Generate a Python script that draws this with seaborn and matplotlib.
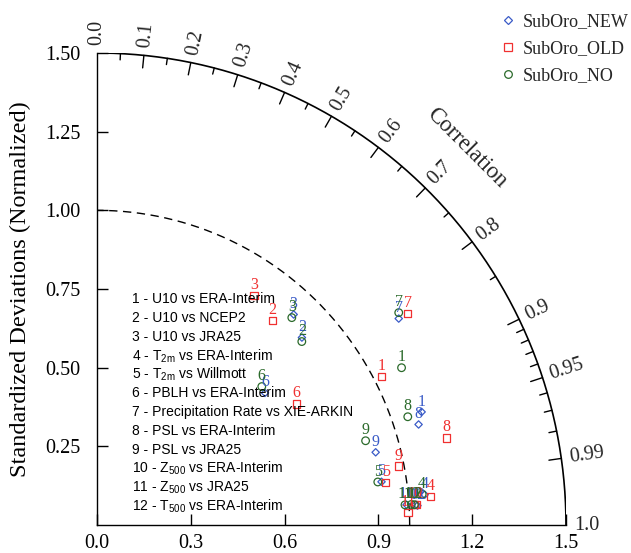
import numpy as np
import pandas as pd
import matplotlib
matplotlib.use("Agg")
import matplotlib.pyplot as plt
import seaborn as sns
from matplotlib.lines import Line2D

# ---------------- data ----------------
models = ["SubOro_NEW", "SubOro_OLD", "SubOro_NO"]
case_ids = [1, 2, 3, 4, 5, 6, 7, 8, 9, 10, 11, 12]

sd_new = [1.0987, 0.8856, 0.9183, 1.0524, 0.9203, 0.6818, 1.1669, 1.0770, 0.9207, 1.0220, 0.9921, 1.0269]
corr_new = [0.9450, 0.7400, 0.6850, 0.9958, 0.9888, 0.7880, 0.8270, 0.9550, 0.9680, 0.9980, 0.9979, 0.9982]

sd_old = [1.0255, 0.8593, 0.8851, 1.0698, 0.9327, 0.7460, 1.1998, 1.1518, 0.9831, 1.0171, 0.9958, 1.0221]
corr_old = [0.8880, 0.6540, 0.5670, 0.9964, 0.9896, 0.8566, 0.8285, 0.9707, 0.9816, 0.9979, 0.9992, 0.9980]

sd_no = [1.0948, 0.8769, 0.9069, 1.0446, 0.9084, 0.6865, 1.1776, 1.0518, 0.8998, 1.0072, 0.9871, 1.0170]
corr_no = [0.8897, 0.7470, 0.6870, 0.9956, 0.9886, 0.7677, 0.8195, 0.9450, 0.9547, 0.9979, 0.9979, 0.9980]

case_labels = [
    "1 - U10 vs ERA-Interim",
    "2 - U10 vs NCEP2",
    "3 - U10 vs JRA25",
    "4 - T$_{\\mathrm{2m}}$ vs ERA-Interim",
    "5 - T$_{\\mathrm{2m}}$ vs Willmott",
    "6 - PBLH vs ERA-Interim",
    "7 - Precipitation Rate vs XIE-ARKIN",
    "8 - PSL vs ERA-Interim",
    "9 - PSL vs JRA25",
    "10 - Z$_{\\mathrm{500}}$ vs ERA-Interim",
    "11 - Z$_{\\mathrm{500}}$ vs JRA25",
    "12 - T$_{\\mathrm{500}}$ vs ERA-Interim",
]

sd_max = 1.5
sd_ticks = [0.25, 0.5, 0.75, 1.0, 1.25, 1.5]
x_ticks = [0.0, 0.3, 0.6, 0.9, 1.2, 1.5]
corr_major = [0.1, 0.2, 0.3, 0.4, 0.5, 0.6, 0.7, 0.8, 0.9, 0.95, 0.99]
corr_medium = [0.05, 0.15, 0.25, 0.35, 0.45, 0.55, 0.65, 0.75, 0.85]
corr_minor = [0.91, 0.92, 0.93, 0.94, 0.96, 0.97, 0.98]
corr_labels = [0.0] + corr_major + [1.0]

colors = {"SubOro_NEW": "#3a5bc7", "SubOro_OLD": "#f03030", "SubOro_NO": "#2b6a2b"}
markers = {"SubOro_NEW": "D", "SubOro_OLD": "s", "SubOro_NO": "o"}
sizes = {"SubOro_NEW": 14, "SubOro_OLD": 28, "SubOro_NO": 30}

rows = []
for m, sds, crs in [("SubOro_NEW", sd_new, corr_new),
                    ("SubOro_OLD", sd_old, corr_old),
                    ("SubOro_NO", sd_no, corr_no)]:
    for cid, s, c in zip(case_ids, sds, crs):
        rows.append({"model": m, "case": cid, "sd": s, "corr": c})
df = pd.DataFrame(rows)
df["x"] = df["sd"] * df["corr"]
df["y"] = df["sd"] * np.sqrt(1 - df["corr"] ** 2)

# ---------------- style ----------------
sns.set_theme(style="white")
plt.rcParams["font.family"] = ["Liberation Serif", "DejaVu Serif"]
plt.rcParams["mathtext.fontset"] = "custom"
plt.rcParams["mathtext.rm"] = "Liberation Sans"
plt.rcParams["mathtext.it"] = "Liberation Sans:italic"
plt.rcParams["mathtext.bf"] = "Liberation Sans:bold"

fig = plt.figure(figsize=(6.31, 5.53), dpi=100)
ax = fig.add_axes([97 / 631, 28 / 553, 469 / 631, 472 / 553])

# arcs
th = np.linspace(0, np.pi / 2, 400)
ax.plot(sd_max * np.cos(th), sd_max * np.sin(th), color="black", lw=1.2, zorder=1)
ax.plot(np.cos(th), np.sin(th), color="black", lw=1.0, ls=(0, (6, 4)), zorder=1)

# correlation ticks on outer arc
def arc_tick(c, length):
    a = np.arccos(c)
    ax.plot([sd_max * np.cos(a), (sd_max - length) * np.cos(a)],
            [sd_max * np.sin(a), (sd_max - length) * np.sin(a)],
            color="black", lw=1.0, zorder=1)

for c in corr_major:
    arc_tick(c, 0.04)
for c in corr_medium:
    arc_tick(c, 0.02)
for c in corr_minor:
    arc_tick(c, 0.025)

for c in corr_labels:
    a = np.arccos(c)
    r = sd_max * 1.017
    lab = f"{c:.2f}" if c in (0.95, 0.99) else f"{c:.1f}"
    ax.text(r * np.cos(a), r * np.sin(a), lab, rotation=np.degrees(a),
            rotation_mode="anchor", ha="left", va="center", fontsize=14.5,
            clip_on=False)

ax.text(1.182, 1.20, "Correlation", rotation=-45, ha="center", va="center",
        fontsize=16.5, rotation_mode="anchor")

# points
sns.scatterplot(data=df, x="x", y="y", hue="model", style="model", size="model",
                palette=colors, markers=markers, sizes=sizes, hue_order=models,
                legend=False, ax=ax, zorder=3)
for coll in ax.collections:
    fc = coll.get_facecolors()
    coll.set_edgecolors(fc)
    coll.set_facecolors("none")
    coll.set_linewidths(0.9)
    coll.set_clip_on(False)

for _, r in df.iterrows():
    ax.annotate(str(r["case"]), (r["x"], r["y"]), xytext=(0, 7.5),
                textcoords="offset points", ha="center", va="center",
                fontsize=11.5, color=colors[r["model"]], zorder=4)

# case list
for i, lab in enumerate(case_labels):
    ax.text(0.112, 0.717 - i * 0.0598, lab, fontsize=10, va="center", ha="left",
            family=["Liberation Sans", "DejaVu Sans"], color="black")

# axes
ax.set_xlim(0, sd_max)
ax.set_ylim(0, sd_max)
ax.set_xticks(x_ticks)
ax.set_xticklabels([f"{v:.1f}" for v in x_ticks])
ax.set_yticks(sd_ticks)
ax.set_yticklabels([f"{v:.2f}" for v in sd_ticks])
ax.tick_params(direction="in", length=8, width=1, labelsize=14.5, color="black",
               labelcolor="black", bottom=True, left=True)
ax.tick_params(axis="y", pad=12)
ax.tick_params(axis="x", pad=6.5)
for s in ["top", "right"]:
    ax.spines[s].set_visible(False)
for s in ["left", "bottom"]:
    ax.spines[s].set_color("black")
    ax.spines[s].set_linewidth(1.0)
ax.set_xlabel("")
ax.set_ylabel("Standardized Deviations (Normalized)", fontsize=17.5, color="black")
ax.yaxis.set_label_coords(-0.140, 0.5)
ax.patch.set_alpha(0)

# legend
handles = [Line2D([], [], ls="", marker=markers[m], mfc="none", mec=colors[m],
                  ms=(4.2 if m == "SubOro_NEW" else 5.5), mew=0.9) for m in models]
fig.legend(handles, models, loc="upper left", bbox_to_anchor=(492 / 631, 1 - 6 / 553),
           frameon=False, fontsize=13, handlelength=1.0, handletextpad=0.3,
           labelspacing=0.55, borderaxespad=0)

fig.savefig("out.png", dpi=100)
